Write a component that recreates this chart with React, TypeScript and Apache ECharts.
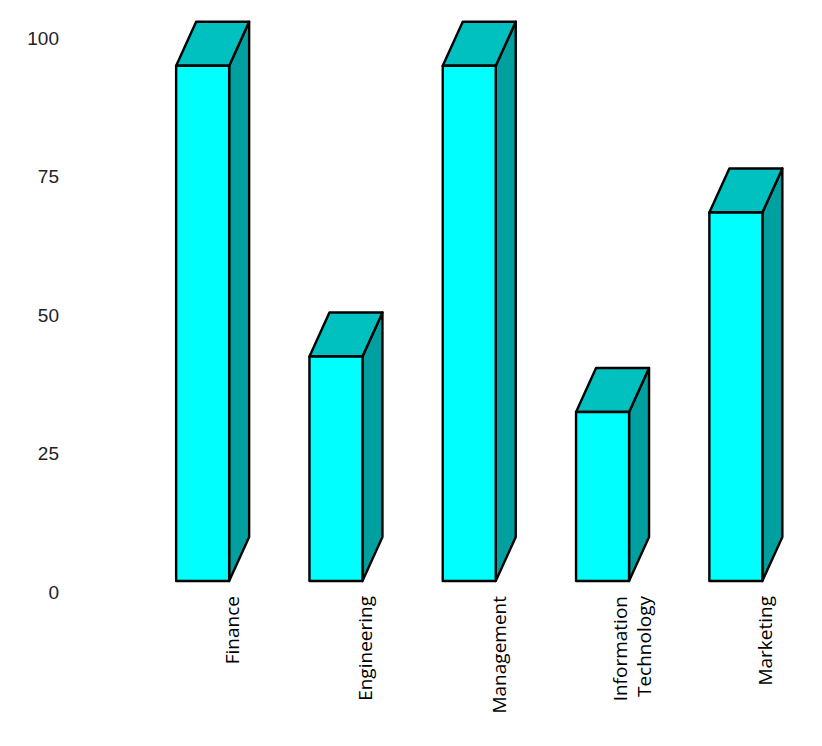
import React, { useEffect, useRef } from "react";
import * as echarts from "echarts";

const categories = ["Finance", "Engineering", "Management", "Information Technology", "Marketing"];
const values = [95, 42.5, 95, 32.5, 68.5];
const yTicks = { min: 0, max: 100, interval: 25 };

const FRONT = "#00FFFF";
const TOP = "#00C0C0";
const SIDE = "#00A0A0";
const FRONT_W = 53;
const FRONT_SHIFT = 56;
const DEPTH_X = 20;
const DEPTH_Y = 44;
const LIFT = 11;

export default function App() {
  const ref = useRef<HTMLDivElement>(null);
  useEffect(() => {
    document.body.style.margin = "0";
    if (!ref.current) return;
    const chart = echarts.init(ref.current, undefined, { renderer: "svg" });
    chart.setOption({
      animation: false,
      backgroundColor: "#ffffff",
      grid: { left: 165.5, top: 38, width: 666.5, height: 554, outerBoundsMode: "none", containLabel: false },
      xAxis: {
        type: "category",
        data: categories,
        axisLine: { show: false },
        axisTick: { show: false },
        splitLine: { show: false },
        axisLabel: {
          rotate: 90,
          margin: 4,
          interval: 0,
          fontSize: 19,
          fontFamily: "Open Sans",
          color: "#000",
          lineHeight: 24,
          formatter: (v: string) => v.replace(" ", "\n"),
        },
      },
      yAxis: {
        type: "value",
        min: yTicks.min,
        max: yTicks.max,
        interval: yTicks.interval,
        axisLine: { show: false },
        axisTick: { show: false },
        splitLine: { show: false },
        axisLabel: {
          margin: 106.5,
          fontSize: 19,
          fontFamily: "Liberation Sans",
          color: "#222",
        },
      },
      series: [
        {
          type: "custom",
          data: values.map((v, i) => [i, v]),
          encode: { x: 0, y: 1 },
          renderItem: (params: any, api: any) => {
            const i = api.value(0);
            const v = api.value(1);
            const top = api.coord([i, v]);
            const base = api.coord([i, 0]);
            const x0 = top[0] - FRONT_SHIFT;
            const x1 = x0 + FRONT_W;
            const yT = top[1];
            const yB = base[1] - LIFT;
            const stroke = { stroke: "#000", lineWidth: 2.4, lineJoin: "round" };
            return {
              type: "group",
              children: [
                {
                  type: "polygon",
                  shape: {
                    points: [
                      [x1, yB],
                      [x1 + DEPTH_X, yB - DEPTH_Y],
                      [x1 + DEPTH_X, yT - DEPTH_Y],
                      [x1, yT],
                    ],
                  },
                  style: { fill: SIDE, ...stroke },
                },
                {
                  type: "polygon",
                  shape: {
                    points: [
                      [x0, yT],
                      [x0 + DEPTH_X, yT - DEPTH_Y],
                      [x1 + DEPTH_X, yT - DEPTH_Y],
                      [x1, yT],
                    ],
                  },
                  style: { fill: TOP, ...stroke },
                },
                {
                  type: "rect",
                  shape: { x: x0, y: yT, width: FRONT_W, height: yB - yT },
                  style: { fill: FRONT, ...stroke },
                },
              ],
            };
          },
        },
      ],
    });
    return () => chart.dispose();
  }, []);
  return <div ref={ref} style={{ width: 822, height: 746 }} />;
}
